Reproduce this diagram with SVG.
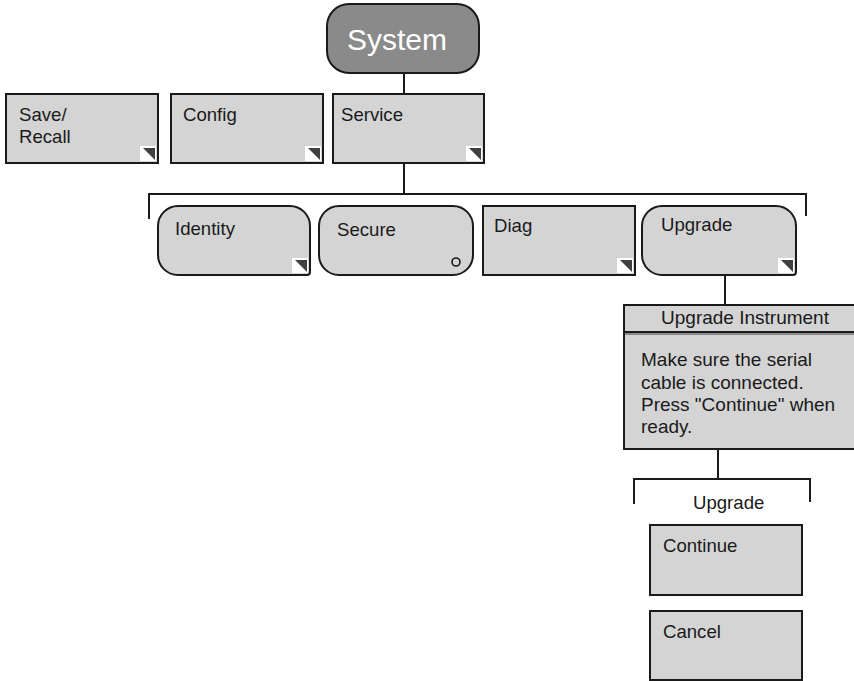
<svg xmlns="http://www.w3.org/2000/svg" width="854" height="681" viewBox="0 0 854 681">
<style>
.box{fill:#d4d4d4;stroke:#1a1a1a;stroke-width:2}
.sys{fill:#8a8a8a;stroke:#1a1a1a;stroke-width:2}
.t{font-family:"Liberation Sans",Arial,sans-serif;font-size:18.6px;fill:#1a1a1a}
.d{font-family:"Liberation Sans",Arial,sans-serif;font-size:19px;fill:#1a1a1a}
.st{font-family:"Liberation Sans",Arial,sans-serif;font-size:30px;fill:#ffffff}
.conn{fill:none;stroke:#1a1a1a;stroke-width:2}
.mw{fill:#ffffff}
.mt{fill:#404040}
</style>
<rect width="854" height="681" fill="#ffffff"/>
<g id="connectors">
<line class="conn" x1="404" y1="73" x2="404" y2="94"/>
<line class="conn" x1="404" y1="163" x2="404" y2="194"/>
<polyline class="conn" points="149,219 149,194 806,194 806,216"/>
<line class="conn" x1="725" y1="275" x2="725" y2="305"/>
<line class="conn" x1="718" y1="449" x2="718" y2="479"/>
<polyline class="conn" points="634,504 634,479 810,479 810,502"/>
</g>
<g id="system">
<rect class="sys" x="327" y="4" width="152" height="69" rx="22"/>
<text class="st" x="397" y="50" text-anchor="middle">System</text>
</g>
<g id="save-recall">
<rect class="box" x="6" y="94" width="152" height="69"/>
<text class="t" x="19" y="121">Save/</text>
<text class="t" x="19" y="143">Recall</text>
<rect class="mw" x="140" y="146" width="16" height="15"/>
<polygon class="mt" points="143,148 155,148 155,160"/>
</g>
<g id="config">
<rect class="box" x="171" y="94" width="152" height="69"/>
<text class="t" x="183" y="121">Config</text>
<rect class="mw" x="305" y="146" width="16" height="15"/>
<polygon class="mt" points="308,148 320,148 320,160"/>
</g>
<g id="service">
<rect class="box" x="333" y="94" width="151" height="69"/>
<text class="t" x="341" y="121">Service</text>
<rect class="mw" x="466" y="146" width="16" height="15"/>
<polygon class="mt" points="469,148 481,148 481,160"/>
</g>
<g id="identity">
<path class="box" d="M178,206 H290 A20,20 0 0 1 310,226 V272 A3,3 0 0 1 307,275 H178 A20,20 0 0 1 158,255 V226 A20,20 0 0 1 178,206 Z"/>
<text class="t" x="175" y="235">Identity</text>
<rect class="mw" x="292" y="258" width="16" height="15"/>
<polygon class="mt" points="295,260 307,260 307,272"/>
</g>
<g id="secure">
<rect class="box" x="319" y="206" width="154" height="69" rx="20"/>
<text class="t" x="337" y="236">Secure</text>
<circle cx="456" cy="262" r="4" fill="none" stroke="#1a1a1a" stroke-width="1.6"/>
</g>
<g id="diag">
<rect class="box" x="483" y="206" width="152" height="69"/>
<text class="t" x="494" y="232">Diag</text>
<rect class="mw" x="617" y="258" width="16" height="15"/>
<polygon class="mt" points="620,260 632,260 632,272"/>
</g>
<g id="upgrade">
<path class="box" d="M662,206 H776 A20,20 0 0 1 796,226 V272 A3,3 0 0 1 793,275 H662 A20,20 0 0 1 642,255 V226 A20,20 0 0 1 662,206 Z"/>
<text class="t" x="661" y="231">Upgrade</text>
<rect class="mw" x="778" y="258" width="16" height="15"/>
<polygon class="mt" points="781,260 793,260 793,272"/>
</g>
<g id="upgrade-instrument">
<rect class="box" x="624" y="305" width="240" height="144"/>
<line x1="624" y1="332" x2="860" y2="332" stroke="#1a1a1a" stroke-width="2"/>
<line x1="625" y1="334" x2="860" y2="334" stroke="#8a8a8a" stroke-width="2"/>
<text class="d" x="745" y="324" text-anchor="middle">Upgrade Instrument</text>
<text class="d" x="641" y="366">Make sure the serial</text>
<text class="d" x="641" y="388.5">cable is connected.</text>
<text class="d" x="641" y="411">Press "Continue" when</text>
<text class="d" x="641" y="433">ready.</text>
</g>
<g id="upgrade-label">
<text class="t" x="693" y="509">Upgrade</text>
</g>
<g id="continue">
<rect class="box" x="650" y="525" width="152" height="70"/>
<text class="t" x="663" y="552">Continue</text>
</g>
<g id="cancel">
<rect class="box" x="650" y="611" width="152" height="69"/>
<text class="t" x="663" y="638">Cancel</text>
</g>
</svg>
